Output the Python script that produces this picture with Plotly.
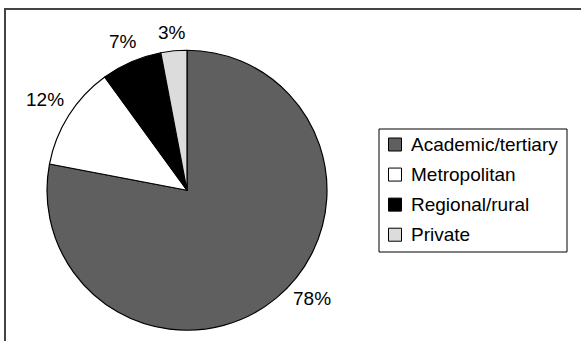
import math
import plotly.graph_objects as go

labels = ["Academic/tertiary", "Metropolitan", "Regional/rural", "Private"]
values = [78, 12, 7, 3]
colors = ["#5f5f5f", "#ffffff", "#000000", "#dcdcdc"]

W, H = 581, 341
FONT = "Liberation Sans, Arial, sans-serif"
FS = 19

def px(x):
    return x / W

def py(y):
    return 1 - y / H

# pie geometry (pixels)
PL, PR, PT, PB = 47, 327, 50, 330.5
cx, cy = (PL + PR) / 2, (PT + PB) / 2
R = (PB - PT) / 2

fig = go.Figure(go.Pie(
    labels=labels,
    values=values,
    marker=dict(colors=colors, line=dict(color="#000000", width=1.2)),
    sort=False,
    direction="clockwise",
    rotation=0,
    textinfo="none",
    showlegend=False,
    hoverinfo="label+percent",
    domain=dict(x=[px(PL), px(PR)], y=[py(PB), py(PT)]),
))

annotations = []
# percentage labels outside the slices, placed from the slice mid-angles
total = sum(values)
cum = 0
GAP = 7
for v in values:
    mid = (cum + v / 2) / total * 2 * math.pi
    cum += v
    pct = round(v / total * 100)
    txt = f"{pct}%"
    s, c = math.sin(mid), -math.cos(mid)
    font = dict(family=FONT, size=FS, color="#000000")
    if c > 0:
        # lower half: label sits beside the slice edge
        ex, ey = cx + R * s, cy + R * c
        annotations.append(dict(xref="paper", yref="paper",
                                x=px(ex + (15 if s > 0 else -15)), y=py(ey),
                                xanchor="left" if s > 0 else "right", yanchor="middle",
                                showarrow=False, text=txt, font=font))
    else:
        hw = 0.5 * (len(str(pct)) * 0.556 + 0.889) * FS
        hh = 0.5 * 0.72 * FS + 3
        d = R + GAP + hw * abs(s) + hh * abs(c)
        annotations.append(dict(xref="paper", yref="paper",
                                x=px(cx + d * s), y=py(cy + d * c),
                                xanchor="center", yanchor="middle", showarrow=False,
                                text=txt, font=font))

shapes = [
    # outer frame
    dict(type="rect", xref="paper", yref="paper",
         x0=px(5), x1=px(W + 5), y0=py(H + 5), y1=py(9),
         line=dict(color="#444444", width=2), fillcolor="rgba(0,0,0,0)", layer="below"),
    # legend box
    dict(type="rect", xref="paper", yref="paper",
         x0=px(379), x1=px(567), y0=py(252), y1=py(129),
         line=dict(color="#000000", width=1), fillcolor="rgba(0,0,0,0)"),
]
y0, step = 144.5, 30.07
for i, (lab, col) in enumerate(zip(labels, colors)):
    ly = y0 + i * step
    shapes.append(dict(type="rect", xref="paper", yref="paper",
                       x0=px(388.5), x1=px(401.5), y0=py(ly + 6.5), y1=py(ly - 6.5),
                       line=dict(color="#000000", width=1), fillcolor=col))
    annotations.append(dict(xref="paper", yref="paper", x=px(409), y=py(ly),
                            xanchor="left", yanchor="middle", showarrow=False,
                            text=lab, font=dict(family=FONT, size=FS, color="#000000")))

fig.update_layout(
    width=W, height=H,
    margin=dict(l=0, r=0, t=0, b=0),
    paper_bgcolor="#ffffff",
    plot_bgcolor="#ffffff",
    shapes=shapes,
    annotations=annotations,
    font=dict(family=FONT, size=FS, color="#000000"),
)

fig.write_html("out.html")
